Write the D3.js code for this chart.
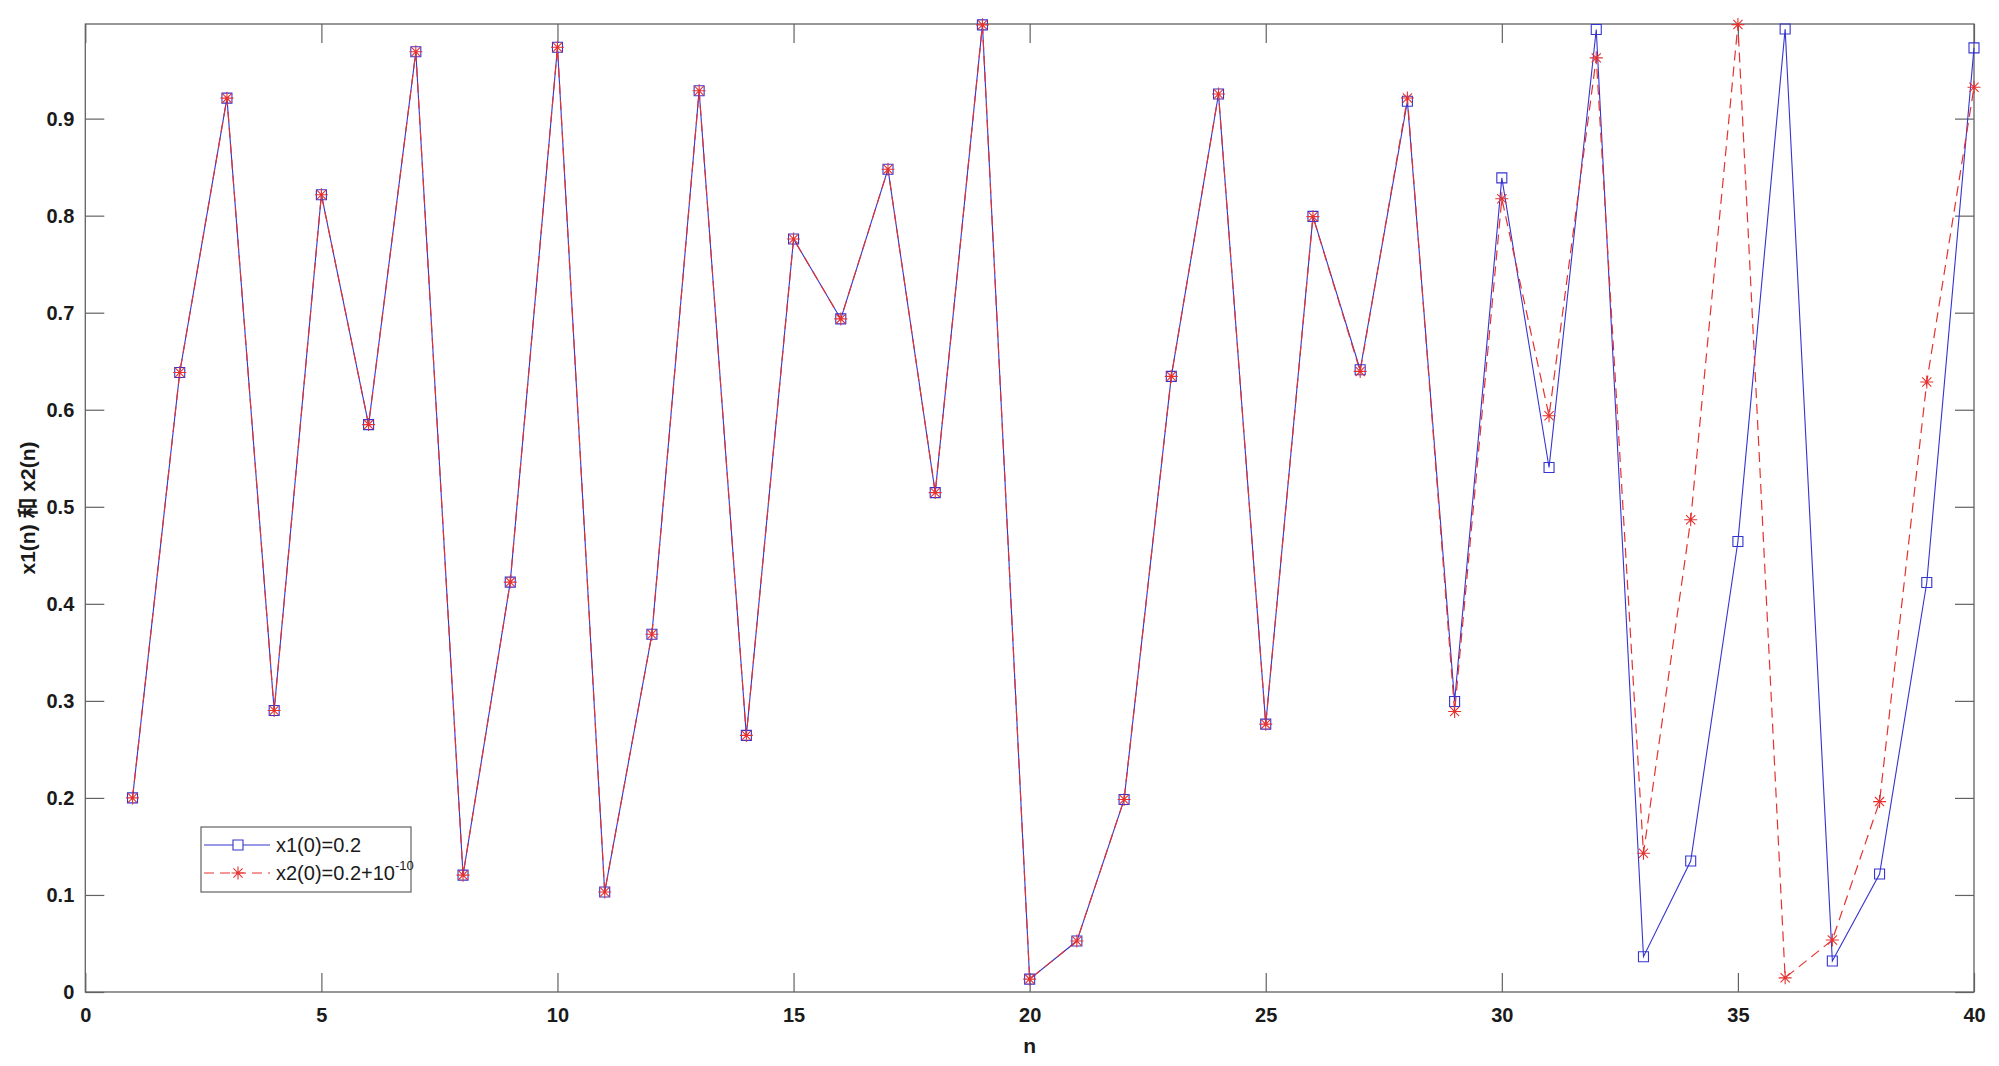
<!DOCTYPE html>
<html>
<head>
<meta charset="utf-8">
<script src="https://cdn.jsdelivr.net/npm/d3@7/dist/d3.min.js"></script>
<style>
  html, body { margin: 0; padding: 0; background: #fff; }
  svg { display: block; }
</style>
</head>
<body>
<svg id="chart" width="1999" height="1066"></svg>
<script>
// ---- data ----
const nValues = [1,2,3,4,5,6,7,8,9,10,11,12,13,14,15,16,17,18,19,20,
                 21,22,23,24,25,26,27,28,29,30,31,32,33,34,35,36,37,38,39,40];
const x1Values = [0.2000,0.6384,0.9211,0.2901,0.8216,0.5847,0.9689,0.1204,0.4224,0.9735,
                  0.1030,0.3686,0.9287,0.2644,0.7760,0.6936,0.8479,0.5146,0.9966,0.0133,
                  0.0525,0.1983,0.6344,0.9254,0.2760,0.7993,0.6412,0.9179,0.2993,0.8389,
                  0.5405,0.9918,0.0364,0.1350,0.4642,0.9924,0.0320,0.1216,0.4220,0.9729];
const x2Values = [0.2000,0.6384,0.9211,0.2901,0.8216,0.5847,0.9689,0.1204,0.4224,0.9735,
                  0.1030,0.3686,0.9287,0.2644,0.7760,0.6936,0.8479,0.5146,0.9966,0.0133,
                  0.0525,0.1983,0.6344,0.9254,0.2760,0.7990,0.6395,0.9213,0.2890,0.8175,
                  0.5938,0.9626,0.1430,0.4866,0.9969,0.0146,0.0536,0.1962,0.6286,0.9323];
const xTicks = [0,5,10,15,20,25,30,35,40];
const yTicks = [0,0.1,0.2,0.3,0.4,0.5,0.6,0.7,0.8,0.9];
const seriesNames = ["x1(0)=0.2", "x2(0)=0.2+10"];
const seriesSup = ["", "-10"];
const xLabel = "n";
const yLabel = "x1(n) 和 x2(n)";

// ---- layout ----
const L = 85.3, R = 1974, T = 24, B = 992;
const tickLen = 19;
const blue = "#3434d2", red = "#e5322f", axisCol = "#626262";
const fontTick = "'Liberation Sans', Arial, 'Noto Sans CJK SC', sans-serif";

const svg = d3.select("#chart");
const x = d3.scaleLinear().domain([0, 40]).range([L, R]);
const y = d3.scaleLinear().domain([0, 0.9975]).range([B, T]);

// axes (inward ticks, mirrored)
const gB = svg.append("g").attr("transform", `translate(0,${B})`)
  .call(d3.axisBottom(x).tickValues(xTicks).tickSizeInner(-tickLen).tickSizeOuter(0).tickPadding(16).tickFormat(d3.format("d")));
const gT = svg.append("g").attr("transform", `translate(0,${T})`)
  .call(d3.axisTop(x).tickValues(xTicks).tickSizeInner(-tickLen).tickSizeOuter(0).tickFormat(""));
const gL = svg.append("g").attr("transform", `translate(${L},0)`)
  .call(d3.axisLeft(y).tickValues(yTicks).tickSizeInner(-tickLen).tickSizeOuter(0).tickPadding(11).tickFormat(d => d === 0 ? "0" : d3.format(".1f")(d)));
const gR = svg.append("g").attr("transform", `translate(${R},0)`)
  .call(d3.axisRight(y).tickValues(yTicks).tickSizeInner(-tickLen).tickSizeOuter(0).tickFormat(""));

[gB, gT, gL, gR].forEach(g => {
  g.select(".domain").remove();
  g.selectAll(".tick line").attr("stroke", axisCol).attr("stroke-width", 1.2);
  g.selectAll(".tick text").attr("fill", "#1a1a1a").attr("font-family", fontTick)
    .attr("font-size", 20).attr("font-weight", "bold");
});
gB.selectAll(".tick text").attr("dy", "0.71em");

svg.append("rect").attr("x", L).attr("y", T).attr("width", R - L).attr("height", B - T)
  .attr("fill", "none").attr("stroke", axisCol).attr("stroke-width", 1.3);

// axis labels
svg.append("text").attr("x", (L + R) / 2).attr("y", 1053).attr("text-anchor", "middle")
  .attr("font-family", fontTick).attr("font-size", 21).attr("font-weight", "bold")
  .attr("fill", "#1a1a1a").text(xLabel);
svg.append("text").attr("transform", `translate(35,${(T + B) / 2}) rotate(-90)`)
  .attr("text-anchor", "middle")
  .attr("font-family", fontTick).attr("font-size", 21).attr("font-weight", "bold")
  .attr("fill", "#1a1a1a").text(yLabel);

// lines
const line1 = d3.line().x((d, i) => x(nValues[i])).y(d => y(d));
svg.append("path").datum(x1Values).attr("d", line1)
  .attr("fill", "none").attr("stroke", blue).attr("stroke-width", 1.1);
svg.append("path").datum(x2Values).attr("d", line1)
  .attr("fill", "none").attr("stroke", red).attr("stroke-width", 1.2).attr("stroke-dasharray", "10,6");

// markers
const sq = "M-5,-5h10v10h-10z";
const star = "M-6.5,0H6.5M0,-6.5V6.5M-4.6,-4.6L4.6,4.6M-4.6,4.6L4.6,-4.6";
svg.append("g").selectAll("path").data(x1Values).join("path")
  .attr("transform", (d, i) => `translate(${x(nValues[i])},${y(d)})`)
  .attr("d", sq).attr("fill", "none").attr("stroke", blue).attr("stroke-width", 1.1);
svg.append("g").selectAll("path").data(x2Values).join("path")
  .attr("transform", (d, i) => `translate(${x(nValues[i])},${y(d)})`)
  .attr("d", star).attr("fill", "none").attr("stroke", red).attr("stroke-width", 1.1);

// legend
const lg = svg.append("g");
lg.append("rect").attr("x", 201).attr("y", 827).attr("width", 210).attr("height", 65)
  .attr("fill", "#fff").attr("stroke", axisCol).attr("stroke-width", 1.2);
const rows = [845, 873];
const cols = [blue, red];
const marks = [sq, star];
seriesNames.forEach((name, i) => {
  const ln = lg.append("line").attr("x1", 204).attr("x2", 270).attr("y1", rows[i]).attr("y2", rows[i])
    .attr("stroke", cols[i]).attr("stroke-width", i ? 1.2 : 1.1);
  if (i) ln.attr("stroke-dasharray", "10,6");
  lg.append("path").attr("transform", `translate(238,${rows[i]})`).attr("d", marks[i])
    .attr("fill", i ? "none" : "#fff").attr("stroke", cols[i]).attr("stroke-width", 1.1);
  const t = lg.append("text").attr("x", 276).attr("y", rows[i]).attr("dy", "0.35em")
    .attr("font-family", fontTick).attr("font-size", 20).attr("fill", "#1a1a1a").text(name);
  if (seriesSup[i]) {
    t.append("tspan").attr("font-size", 13).attr("dy", "-0.75em").text(seriesSup[i]);
  }
});
</script>
</body>
</html>
